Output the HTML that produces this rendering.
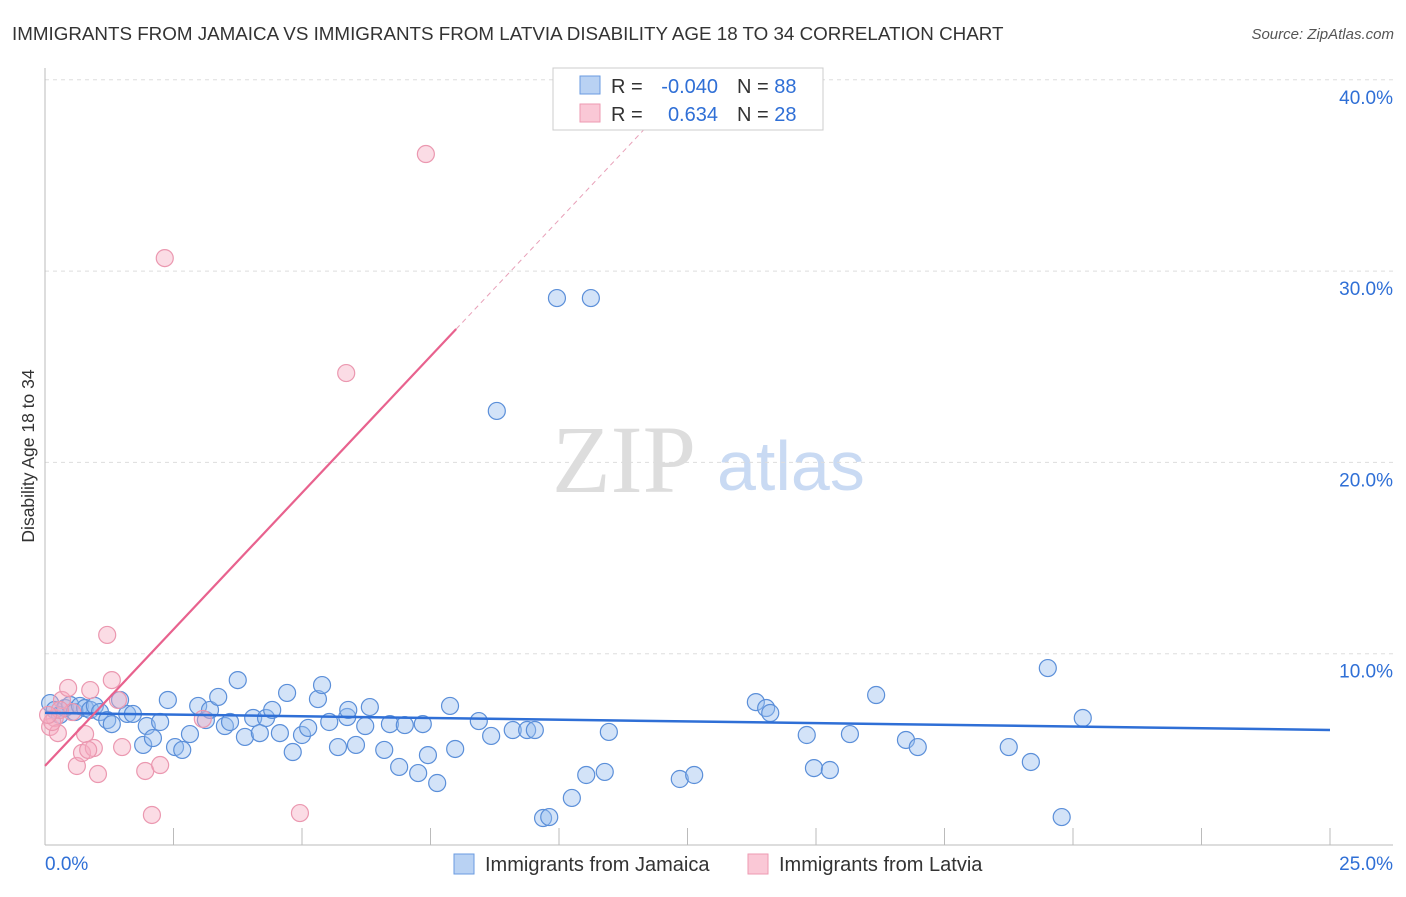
<!DOCTYPE html>
<html><head><meta charset="utf-8"><style>
body{margin:0;background:#fff;font-family:"Liberation Sans",sans-serif;}
svg text{font-family:"Liberation Sans",sans-serif;}
</style></head><body>
<svg id="chart" width="1406" height="892">
<text x="12" y="40" font-size="18.8" fill="#333">IMMIGRANTS FROM JAMAICA VS IMMIGRANTS FROM LATVIA DISABILITY AGE 18 TO 34 CORRELATION CHART</text>
<text x="1394" y="39" font-size="15" fill="#555" text-anchor="end" font-style="italic">Source: ZipAtlas.com</text>
<text x="34" y="456" font-size="17.5" fill="#333" text-anchor="middle" transform="rotate(-90 34 456)">Disability Age 18 to 34</text>
<g>
<text x="552" y="492" font-size="96" fill="#ddd" font-family="Liberation Serif" style="font-family:'Liberation Serif',serif">ZIP</text>
<text x="717" y="490" font-size="70" fill="#c9daf3">atlas</text>
</g>
<g id="grid"></g><g id="axes"></g><g id="pts"></g><g id="lines"></g>
<g>
<rect x="553" y="68" width="270" height="62" fill="#fff" stroke="#ccc"/>
<rect x="580" y="76" width="20" height="18" fill="#b9d2f3" stroke="#6a9be0"/>
<rect x="580" y="104" width="20" height="18" fill="#fac8d6" stroke="#ee9ab2"/>
<text x="611" y="93" font-size="20" fill="#333">R =</text>
<text x="718" y="93" font-size="20" fill="#2f6fd6" text-anchor="end">-0.040</text>
<text x="737" y="93" font-size="20" fill="#333">N = <tspan fill="#2f6fd6">88</tspan></text>
<text x="611" y="121" font-size="20" fill="#333">R =</text>
<text x="718" y="121" font-size="20" fill="#2f6fd6" text-anchor="end">0.634</text>
<text x="737" y="121" font-size="20" fill="#333">N = <tspan fill="#2f6fd6">28</tspan></text>
</g>
<g>
<rect x="454" y="854" width="20" height="20" fill="#b9d2f3" stroke="#6a9be0"/>
<text x="485" y="871" font-size="20" fill="#333">Immigrants from Jamaica</text>
<rect x="748" y="854" width="20" height="20" fill="#fac8d6" stroke="#ee9ab2"/>
<text x="779" y="871" font-size="20" fill="#333">Immigrants from Latvia</text>
</g>
</svg>
<script>
const blueX=[0.10,0.19,0.29,0.39,0.49,0.58,0.68,0.78,0.88,0.97,1.07,1.21,1.30,1.46,1.60,1.71,1.91,1.98,2.10,2.24,2.39,2.53,2.67,2.82,2.98,3.13,3.21,3.37,3.50,3.60,3.89,3.75,4.05,4.18,4.30,4.42,4.57,4.71,4.82,5.00,5.12,5.31,5.39,5.53,5.70,5.88,5.90,6.05,6.23,6.32,6.60,6.71,6.89,7.00,7.26,7.35,7.45,7.63,7.88,7.98,8.44,8.68,8.79,9.10,9.38,9.53,9.69,9.81,9.96,10.25,10.53,10.62,10.89,10.97,12.35,12.63,13.83,14.03,14.11,14.82,14.96,15.27,15.66,16.17,16.75,16.98,18.75,19.18,19.51,19.78,20.19];
const blueY=[7.42,7.06,6.80,7.16,7.32,6.95,7.27,7.16,7.06,7.27,6.95,6.53,6.32,7.58,6.85,6.85,5.23,6.22,5.59,6.43,7.58,5.12,4.97,5.80,7.27,6.53,7.06,7.74,6.22,6.43,5.65,8.62,6.64,5.85,6.64,7.06,5.85,7.95,4.86,5.75,6.12,7.63,8.36,6.43,5.12,6.69,7.06,5.23,6.22,7.21,4.97,6.32,4.08,6.27,3.76,6.32,4.70,3.24,7.27,5.02,6.48,5.70,22.69,6.01,6.01,6.01,1.41,1.46,28.59,2.46,3.66,28.59,3.82,5.91,3.45,3.66,7.47,7.16,6.90,5.75,4.02,3.92,5.80,7.84,5.49,5.12,5.12,4.34,9.25,1.46,6.64];
const pinkX=[0.10,0.19,0.25,0.33,0.45,0.53,0.62,0.72,0.78,0.88,0.95,1.03,1.21,1.30,1.42,1.50,1.95,2.08,2.24,2.33,3.07,4.96,5.86,7.41,0.14,0.29,0.84,0.06];
const pinkY=[6.17,6.64,5.85,7.58,8.21,6.95,4.13,4.81,5.80,8.10,5.07,3.71,10.98,8.62,7.58,5.12,3.87,1.57,4.18,30.68,6.59,1.67,24.67,36.12,6.43,7.06,4.97,6.80];
const yTicks=[10,20,30,40];
const xTickVals=[0,2.5,5,7.5,10,12.5,15,17.5,20,22.5,25];
const NS='http://www.w3.org/2000/svg';
const X=v=>45+v/25*1285, Y=v=>845-v*19.13;
function mk(t,a,p){const e=document.createElementNS(NS,t);for(const k in a)e.setAttribute(k,a[k]);p.appendChild(e);return e;}
const grid=document.getElementById('grid'),axes=document.getElementById('axes');
yTicks.forEach(t=>{
 const l=mk('line',{x1:45,x2:1393,y1:Y(t),y2:Y(t),stroke:'#ddd','stroke-dasharray':'4,4'},grid);
 
 
 const tx=mk('text',{x:1393,y:Y(t)+24,'font-size':19,fill:'#2f6fd6','text-anchor':'end'},axes);
 tx.textContent=t.toFixed(1)+'%';
 
 
});
mk('line',{x1:45,x2:45,y1:68,y2:845,stroke:'#bbb'},axes);
mk('line',{x1:45,x2:1393,y1:845,y2:845,stroke:'#bbb'},axes);
xTickVals.forEach(t=>{const l=mk('line',{x1:X(t),x2:X(t),y1:828,y2:845,stroke:'#bbb'},axes);
 
 });
[['0.0%',45,'start'],['25.0%',1393,'end']].forEach(([s,x,a])=>{const t=mk('text',{x:x,y:870,'font-size':19,fill:'#2f6fd6','text-anchor':a},axes);t.textContent=s;
 
 });
const pts=document.getElementById('pts');
blueX.forEach((v,i)=>{const c=mk('circle',{cx:X(v),cy:Y(blueY[i]),r:8.5,fill:'rgba(150,188,238,0.42)',stroke:'#5b8fd9','stroke-width':1.2},pts);
 
 });
pinkX.forEach((v,i)=>{const c=mk('circle',{cx:X(v),cy:Y(pinkY[i]),r:8.5,fill:'rgba(246,172,194,0.42)',stroke:'#eb98b0','stroke-width':1.2},pts);
 
 });
function fit(xs,ys){const n=xs.length;let mx=0,my=0;xs.forEach((v,i)=>{mx+=v;my+=ys[i];});mx/=n;my/=n;let sxy=0,sxx=0;xs.forEach((v,i)=>{sxy+=(v-mx)*(ys[i]-my);sxx+=(v-mx)**2;});const b=sxy/sxx;return [my-b*mx,b];}
const lines=document.getElementById('lines');
const [ba,bb]=fit(blueX,blueY);
const bl=mk('line',{x1:X(0),y1:Y(ba),x2:X(25),y2:Y(ba+bb*25),stroke:'#2f6fd6','stroke-width':2.5},lines);


const [pa,pb]=fit(pinkX,pinkY);
const xEnd=8.0, xTop=(40-pa)/pb;
const pl=mk('line',{x1:X(0),y1:Y(pa),x2:X(xEnd),y2:Y(pa+pb*xEnd),stroke:'#e8628e','stroke-width':2.2},lines);


const pd=mk('line',{x1:X(xEnd),y1:Y(pa+pb*xEnd),x2:X(xTop),y2:Y(40),stroke:'#e8a0b8','stroke-width':1,'stroke-dasharray':'5,4'},lines);


</script>
</body></html>
